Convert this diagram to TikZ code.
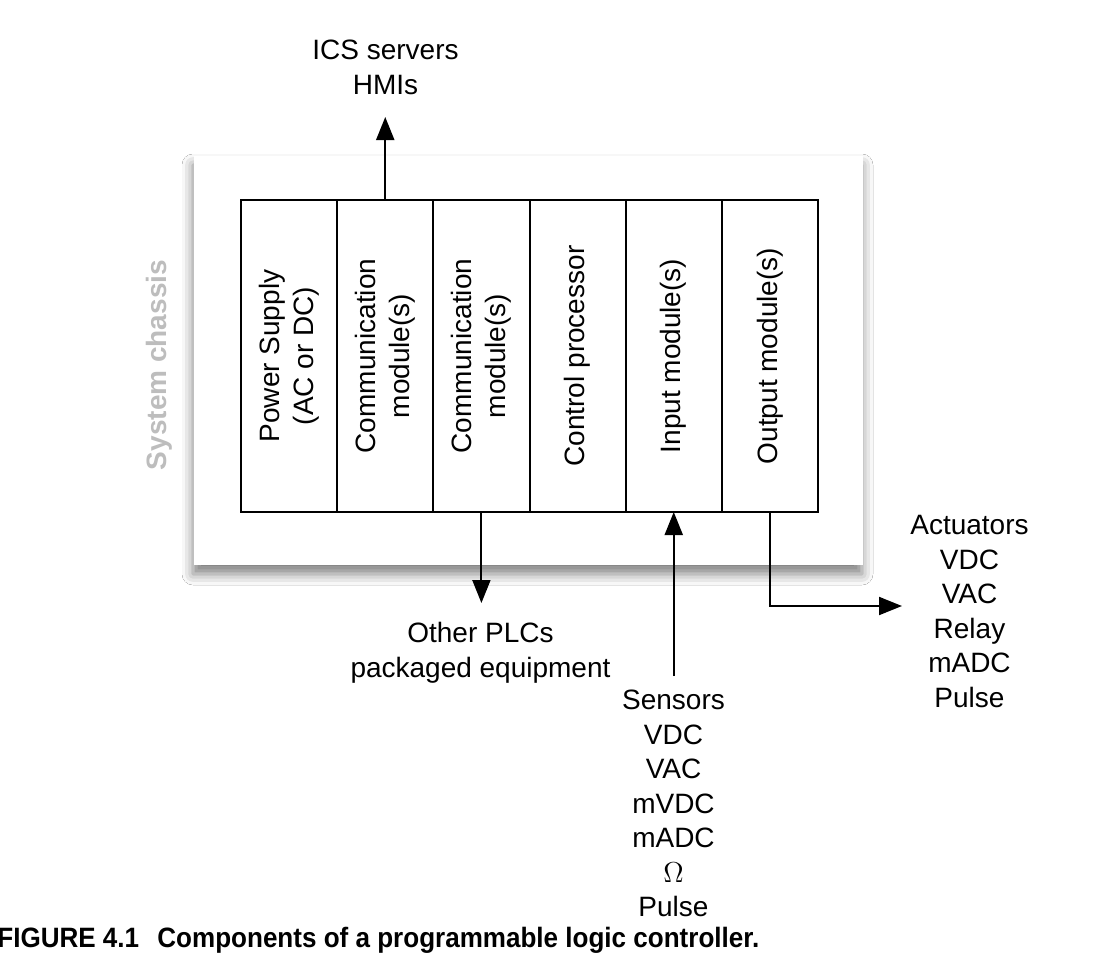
\documentclass[tikz,border=0pt]{standalone}
\usepackage{fontspec}
\usepackage{graphicx}
\setmainfont{Liberation Sans}
\usetikzlibrary{arrows.meta,shadows.blur}
\newcommand\lblfont{\fontsize{14}{17.25}\selectfont}
\definecolor{chasgray}{gray}{0.74}
\tikzset{
  modbox/.style={draw, line width=1pt, minimum width=48.08pt, minimum height=156pt, inner sep=0pt, outer sep=0pt},
  modlabel/.style={rotate=90, align=center, inner sep=0pt, font=\lblfont},
  lbl/.style={align=center, inner sep=0pt, font=\lblfont},
  conn/.style={line width=1pt, -{Triangle[length=11.5pt,width=9pt]}},
  chassis/.style={fill=white, inner sep=0pt, minimum width=334.5pt, minimum height=204.5pt,
    blur shadow={shadow xshift=-0.5pt, shadow yshift=-4.5pt, shadow blur radius=5.5pt, shadow opacity=50}},
}
\begin{document}
\begin{tikzpicture}[x=0.5pt,y=-0.5pt]
\useasboundingbox[fill=white] (0,0) rectangle (1100,970);
% chassis
\node[chassis] (ch) at (528.5,360.5) {};
\node[rotate=90, inner sep=0pt, font=\lblfont\bfseries, text=chasgray] (chl) at (159,365) {System chassis};
% modules
\node[modbox] (m1) at (289.08,356) {};
\node[modbox] (m2) at (385.25,356) {};
\node[modbox] (m3) at (481.42,356) {};
\node[modbox] (m4) at (577.58,356) {};
\node[modbox] (m5) at (673.75,356) {};
\node[modbox] (m6) at (769.92,356) {};
\node[modlabel] (l1) at (m1.center) {Power Supply\\(AC or DC)};
\node[modlabel] (l2) at (m2.center) {Communication\\module(s)};
\node[modlabel] (l3) at (m3.center) {Communication\\module(s)};
\node[modlabel] (l4) at (m4.center) {Control processor};
\node[modlabel] (l5) at (m5.center) {Input module(s)};
\node[modlabel] (l6) at (m6.center) {Output module(s)};
% labels
\node[lbl, anchor=north] (ics) at (385.5,40) {ICS servers\\HMIs};
\node[lbl, anchor=north] (plcs) at (480.5,622) {Other PLCs\\packaged equipment};
\node[lbl, anchor=north] (sens) at (673.5,690) {Sensors\\VDC\\VAC\\mVDC\\mADC\\$\Omega$\\Pulse};
\node[lbl, anchor=north] (act) at (969.5,515) {Actuators\\VDC\\VAC\\Relay\\mADC\\Pulse};
% connectors
\coordinate (icsend) at (385.25,117);
\coordinate (plcend) at (481.42,603);
\coordinate (senstart) at (673.75,676);
\coordinate (actend) at (902,606);
\draw[conn] (m2.north) -- (icsend);
\draw[conn] (m3.south) -- (plcend);
\draw[conn] (senstart) -- (m5.south);
\draw[conn] (m6.south) |- (actend);
% caption
\node[anchor=base west, inner sep=0pt] (cap) at (-3,947) {\fontsize{14}{16}\selectfont\bfseries\scalebox{0.93}[1]{FIGURE 4.1\hspace{0.7em}Components of a programmable logic controller.}};
\end{tikzpicture}
\end{document}
